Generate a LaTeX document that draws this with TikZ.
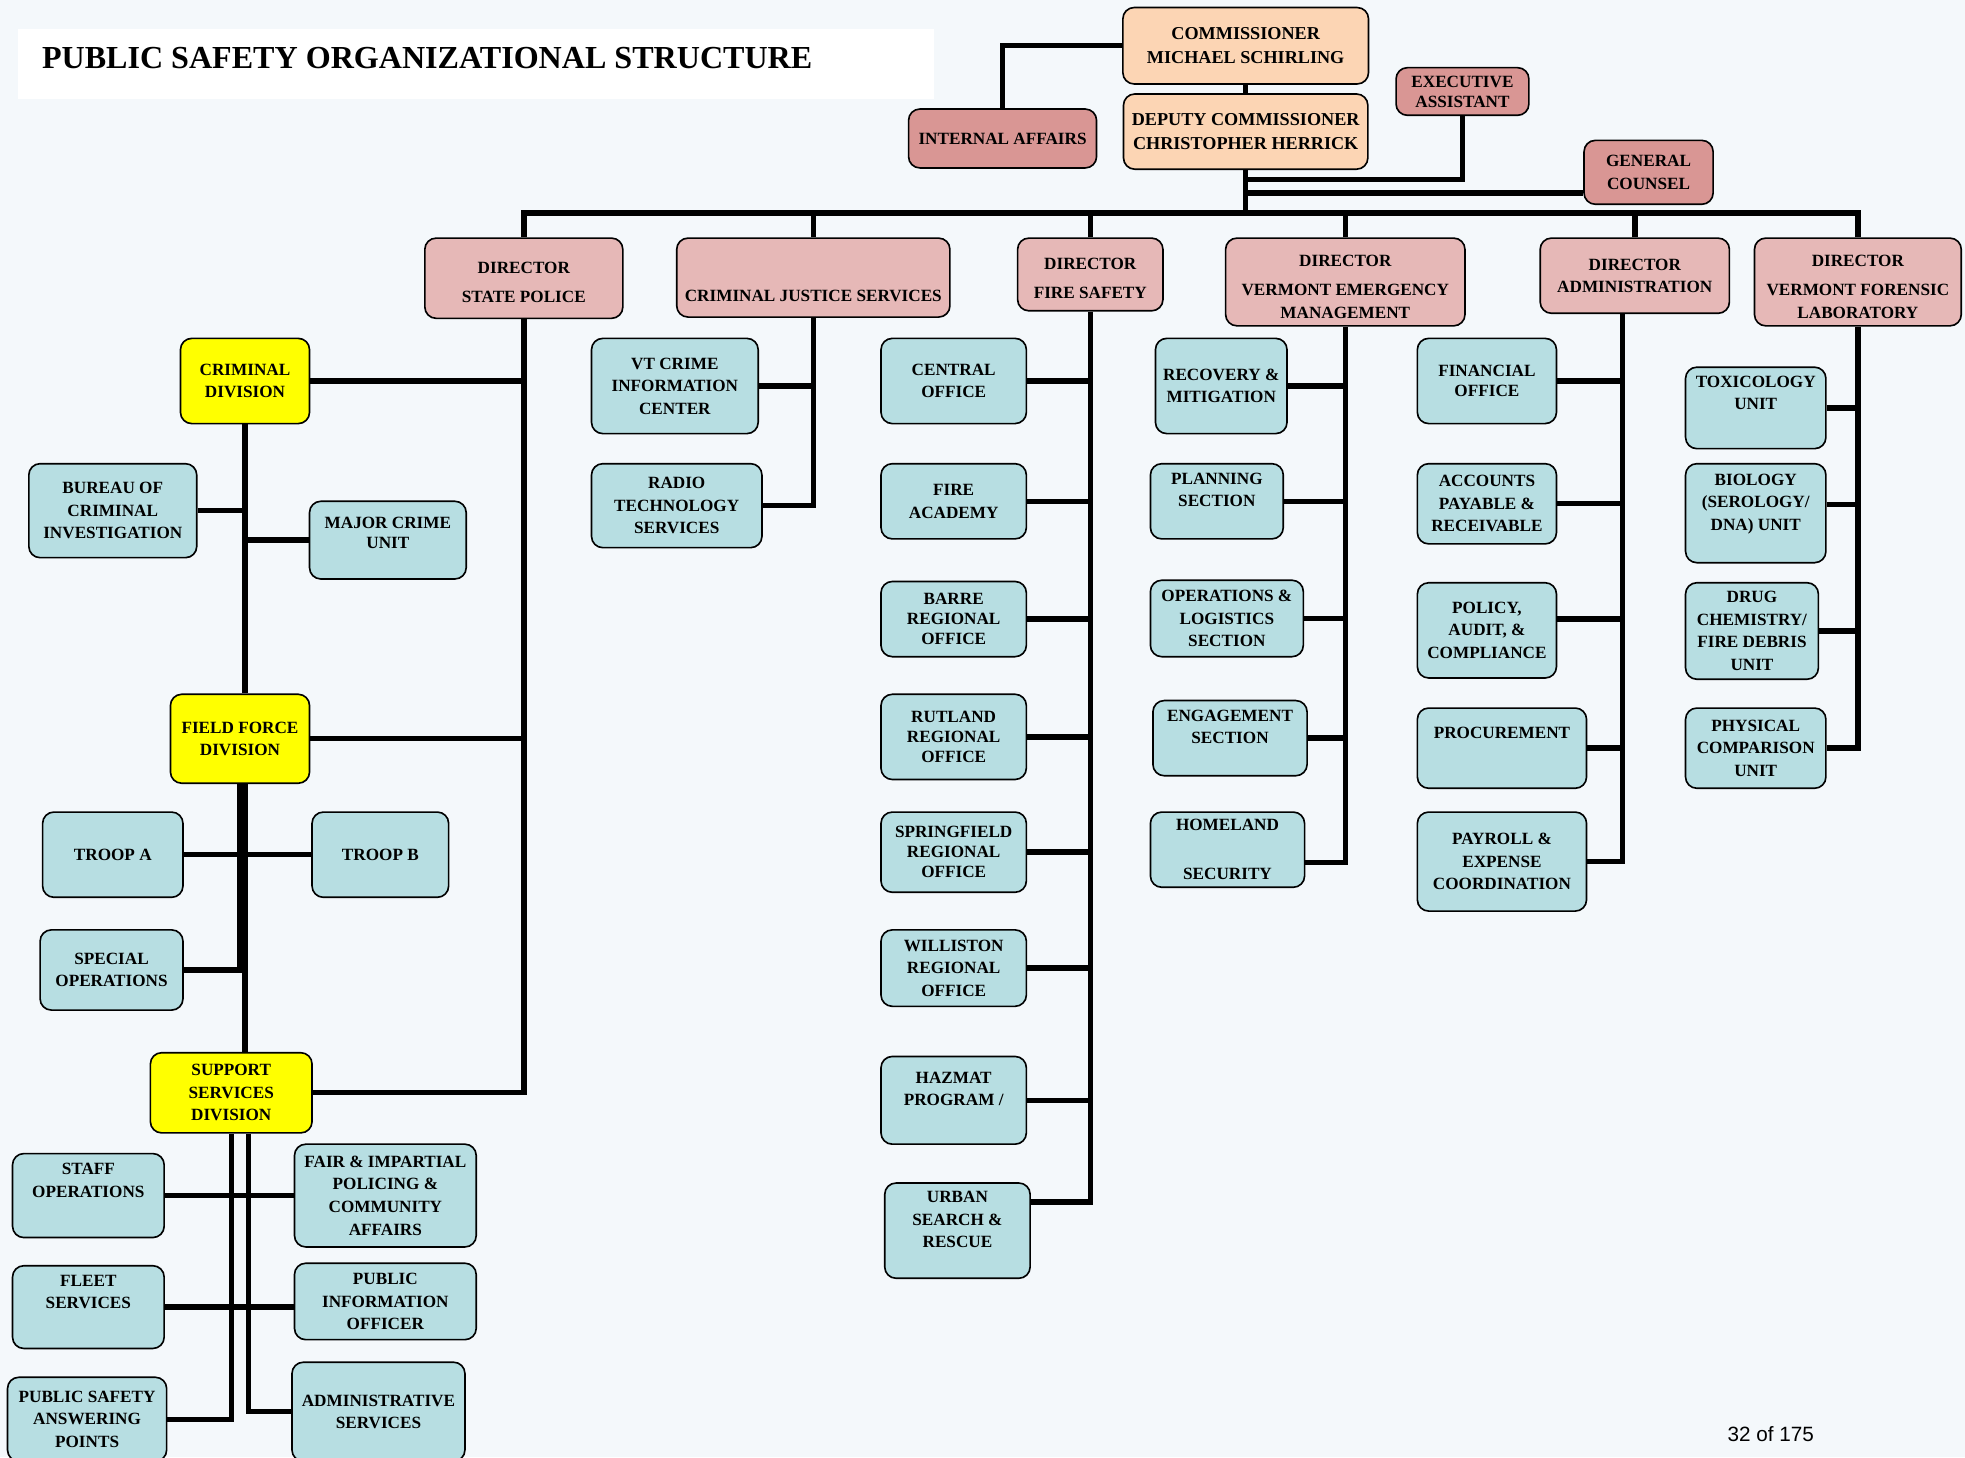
\documentclass[tikz,border=0pt]{standalone}
\usepackage{fontspec}
\setmainfont{Liberation Serif}
\setsansfont{Liberation Sans}
\definecolor{pagebg}{RGB}{244,248,251}
\definecolor{chiefpeach}{RGB}{252,213,180}
\definecolor{staffpink}{RGB}{217,150,148}
\definecolor{dirpink}{RGB}{230,184,183}
\definecolor{unitblue}{RGB}{183,222,226}
\definecolor{divyellow}{RGB}{255,255,0}
\tikzset{
  orgbox/.style={draw, line width=1.3pt, rounded corners=9pt, inner sep=0pt, align=center,
    font=\fontsize{13.7}{18}\selectfont\bfseries},
  unit/.style={orgbox, fill=unitblue},
  division/.style={orgbox, fill=divyellow},
  director/.style={orgbox, fill=dirpink},
  staffbox/.style={orgbox, fill=staffpink},
  chief/.style={orgbox, fill=chiefpeach, font=\fontsize{14.5}{19.5}\selectfont\bfseries},
  link/.style={line width=4.3pt}
}
\begin{document}
\begin{tikzpicture}[x=1pt,y=-1pt]
    \useasboundingbox (0,0) rectangle (1568,1163);
    \fill[pagebg] (0,0) rectangle (1568,1163);
    \fill[white] (14,23) rectangle (745,79);
    \node[anchor=west, font=\fontsize{25.6}{30}\selectfont\bfseries] (title) at (30,46) {PUBLIC SAFETY ORGANIZATIONAL STRUCTURE};
    \node[font=\sffamily\fontsize{16.5}{20}\selectfont] (pageno) at (1413,1144) {32 of 175};
    % top of the chart
    \node[chief, minimum width=196pt, minimum height=61pt] (comm) at (994,36.5) {COMMISSIONER\\MICHAEL SCHIRLING};
    \node[chief, minimum width=195pt, minimum height=60pt] (dep) at (994,105) {DEPUTY COMMISSIONER\\CHRISTOPHER HERRICK};
    \node[staffbox, minimum width=150pt, minimum height=47pt] (ia) at (800,110.5) {INTERNAL AFFAIRS};
    \node[staffbox, minimum width=106pt, minimum height=38pt] (ea) at (1167,73) {EXECUTIVE\\[-2pt]ASSISTANT};
    \node[staffbox, minimum width=103pt, minimum height=51pt] (gc) at (1315.5,137.5) {GENERAL\\COUNSEL};
    \coordinate (bus) at (994,170);
    \coordinate (eajoin) at (994,143);
    \coordinate (gcjoin) at (994,154);
    \draw[link] (comm.west) -| (ia.north);
    \draw[link] (comm.south) -- (dep.north);
    \draw[link] (dep.south) -- (bus);
    \draw[link] (ea.south) |- (eajoin);
    \draw[link] (gcjoin -| gc.west) -- (gcjoin);
    % directors
    \node[director, minimum width=158pt, minimum height=64pt] (sp) at (418,222) {\mbox{}\\[-2pt]DIRECTOR\\[5pt]STATE POLICE};
    \node[director, minimum width=218pt, minimum height=63pt] (cjs) at (649,221.5) {\mbox{}\\[21pt]CRIMINAL JUSTICE SERVICES};
    \node[director, minimum width=116pt, minimum height=58pt] (fs) at (870,219) {\mbox{}\\[-2pt]DIRECTOR\\[5pt]FIRE SAFETY};
    \node[director, minimum width=191pt, minimum height=70pt] (vem) at (1073.5,225) {\mbox{}\\[-1pt]DIRECTOR\\[5pt]VERMONT EMERGENCY\\MANAGEMENT};
    \node[director, minimum width=151pt, minimum height=60pt] (adm) at (1304.5,220) {DIRECTOR\\ADMINISTRATION};
    \node[director, minimum width=165pt, minimum height=70pt] (lab) at (1482.5,225) {\mbox{}\\[-1pt]DIRECTOR\\[5pt]VERMONT FORENSIC\\LABORATORY};
    \draw[link] (sp.north) |- (bus);
    \draw[link] (lab.north) |- (bus);
    \foreach \n in {cjs,fs,vem,adm}
    \draw[link] (\n.north) -- (\n.north |- bus);
    % state police
    \node[division, minimum width=103pt, minimum height=68pt] (crim) at (195.5,304) {CRIMINAL\\DIVISION};
    \node[unit, minimum width=134pt, minimum height=75pt] (bci) at (90,407.5) {BUREAU OF\\CRIMINAL\\INVESTIGATION};
    \node[unit, minimum width=125pt, minimum height=62pt] (mcu) at (309.5,431) {MAJOR CRIME\\[-2pt]UNIT\\[-6pt]\mbox{}};
    \node[division, minimum width=111pt, minimum height=71pt] (ff) at (191.5,589.5) {FIELD FORCE\\DIVISION};
    \node[unit, minimum width=112pt, minimum height=68pt] (troopa) at (90,682) {TROOP A};
    \node[unit, minimum width=109pt, minimum height=68pt] (troopb) at (303.5,682) {TROOP B};
    \node[unit, minimum width=114pt, minimum height=64pt] (specops) at (89,774) {SPECIAL\\OPERATIONS};
    \node[division, minimum width=129pt, minimum height=64pt] (sup) at (184.5,872) {SUPPORT\\SERVICES\\DIVISION};
    \node[unit, minimum width=121pt, minimum height=67pt] (staff) at (70.5,954) {STAFF\\OPERATIONS\\[6pt]\mbox{}};
    \node[unit, minimum width=121pt, minimum height=66pt] (fleet) at (70.5,1043) {FLEET\\SERVICES\\[6pt]\mbox{}};
    \node[unit, minimum width=127pt, minimum height=67pt] (psap) at (69.5,1132.5) {PUBLIC SAFETY\\ANSWERING\\POINTS};
    \node[unit, minimum width=145pt, minimum height=82pt] (fair) at (307.5,954) {FAIR \& IMPARTIAL\\POLICING \&\\COMMUNITY\\AFFAIRS};
    \node[unit, minimum width=145pt, minimum height=61pt] (pio) at (307.5,1038.5) {PUBLIC\\INFORMATION\\OFFICER};
    \node[unit, minimum width=138pt, minimum height=79pt] (admsvc) at (302,1126.5) {ADMINISTRATIVE\\SERVICES};
    \draw[link] (sp.south) |- (sup.east);
    \foreach \n in {crim,ff}
    \draw[link] (\n.east) -- (\n.east -| sp.south);
    \draw[link] (crim.south) -- (crim.south |- ff.north);
    \draw[link] (bci.east) -- (bci.east -| crim.south);
    \draw[link] (mcu.west) -- (mcu.west -| crim.south);
    \draw[link] (crim.south |- ff.south) -- (crim.south |- sup.north);
    \draw[link] (ff.south) |- (specops.east);
    \draw[link] (troopa.east) -- (troopb.west);
    \coordinate (supright) at ([xshift=14pt]sup.south);
    \draw[link] (sup.south) |- (psap.east);
    \draw[link] (supright) |- (admsvc.west);
    \draw[link] (staff.east) -- (fair.west);
    \draw[link] (fleet.east) -- (fleet.east -| pio.west);
    % criminal justice services
    \node[unit, minimum width=133pt, minimum height=76pt] (vtcic) at (538.5,308) {VT CRIME\\INFORMATION\\CENTER};
    \node[unit, minimum width=136pt, minimum height=67pt] (radio) at (540,403.5) {RADIO\\TECHNOLOGY\\SERVICES};
    \draw[link] (cjs.south) |- (radio.east);
    \draw[link] (vtcic.east) -- (vtcic.east -| cjs.south);
    % fire safety
    \node[unit, minimum width=116pt, minimum height=68pt] (central) at (761,304) {CENTRAL\\OFFICE};
    \node[unit, minimum width=116pt, minimum height=60pt] (academy) at (761,400) {FIRE\\ACADEMY};
    \node[unit, minimum width=116pt, minimum height=60pt] (barre) at (761,494) {BARRE\\[-2pt]REGIONAL\\[-2pt]OFFICE};
    \node[unit, minimum width=116pt, minimum height=68pt] (rutland) at (761,588) {RUTLAND\\[-2pt]REGIONAL\\[-2pt]OFFICE};
    \node[unit, minimum width=116pt, minimum height=64pt] (springfield) at (761,680) {SPRINGFIELD\\[-2pt]REGIONAL\\[-2pt]OFFICE};
    \node[unit, minimum width=116pt, minimum height=61pt] (williston) at (761,772.5) {WILLISTON\\REGIONAL\\OFFICE};
    \node[unit, minimum width=116pt, minimum height=70pt] (hazmat) at (761,878) {HAZMAT\\PROGRAM /\\\mbox{}};
    \node[unit, minimum width=116pt, minimum height=76pt] (urban) at (764,982) {URBAN\\SEARCH \&\\RESCUE\\\mbox{}};
    \coordinate (urbanjoin) at ([yshift=23pt]urban.east);
    \draw[link] (fs.south) |- (urbanjoin);
    \foreach \n in {central,academy,barre,rutland,springfield,williston,hazmat}
    \draw[link] (\n.east) -- (\n.east -| fs.south);
    % emergency management
    \node[unit, minimum width=105pt, minimum height=76pt] (recovery) at (974.5,308) {RECOVERY \&\\MITIGATION};
    \node[unit, minimum width=106pt, minimum height=60pt] (planning) at (971,400) {PLANNING\\SECTION\\\mbox{}};
    \node[unit, minimum width=122pt, minimum height=61pt] (opslog) at (979,493.5) {OPERATIONS \&\\LOGISTICS\\SECTION};
    \node[unit, minimum width=123pt, minimum height=60pt] (engage) at (981.5,589) {ENGAGEMENT\\SECTION\\\mbox{}};
    \node[unit, minimum width=123pt, minimum height=60pt] (homeland) at (979.5,678) {HOMELAND\\[21pt]SECURITY};
    \coordinate (homejoin) at ([yshift=-10pt]homeland.east);
    \draw[link] (vem.south) |- (homejoin);
    \foreach \n in {recovery,planning,opslog,engage}
    \draw[link] (\n.east) -- (\n.east -| vem.south);
    % administration
    \node[unit, minimum width=111pt, minimum height=68pt] (finance) at (1186.5,304) {FINANCIAL\\[-2pt]OFFICE};
    \node[unit, minimum width=111pt, minimum height=64pt] (accounts) at (1186.5,402) {ACCOUNTS\\PAYABLE \&\\RECEIVABLE};
    \node[unit, minimum width=111pt, minimum height=76pt] (policy) at (1186.5,503) {POLICY,\\AUDIT, \&\\COMPLIANCE};
    \node[unit, minimum width=135pt, minimum height=64pt] (procure) at (1198.5,597) {PROCUREMENT\\[6pt]\mbox{}};
    \node[unit, minimum width=135pt, minimum height=79pt] (payroll) at (1198.5,687.5) {PAYROLL \&\\EXPENSE\\COORDINATION};
    \coordinate (admline) at ([xshift=-10pt]adm.south);
    \coordinate (policyjoin) at ([yshift=9pt]policy.east);
    \draw[link] (admline) |- (payroll.east);
    \foreach \n in {finance,accounts,procure}
    \draw[link] (\n.east) -- (\n.east -| admline);
    \draw[link] (policyjoin) -- (policyjoin -| admline);
    % forensic laboratory
    \node[unit, minimum width=112pt, minimum height=65pt] (tox) at (1401,325.5) {TOXICOLOGY\\UNIT\\[6pt]\mbox{}};
    \node[unit, minimum width=112pt, minimum height=79pt] (bio) at (1401,409.5) {BIOLOGY\\(SEROLOGY/\\DNA) UNIT\\\mbox{}};
    \node[unit, minimum width=106pt, minimum height=77pt] (drug) at (1398,503.5) {DRUG\\CHEMISTRY/\\FIRE DEBRIS\\UNIT};
    \node[unit, minimum width=112pt, minimum height=64pt] (phys) at (1401,597) {PHYSICAL\\COMPARISON\\UNIT};
    \coordinate (biojoin) at ([yshift=7pt]bio.east);
    \draw[link] (lab.south) |- (phys.east);
    \foreach \n in {tox,drug}
    \draw[link] (\n.east) -- (\n.east -| lab.south);
    \draw[link] (biojoin) -- (biojoin -| lab.south);
\end{tikzpicture}
\end{document}
